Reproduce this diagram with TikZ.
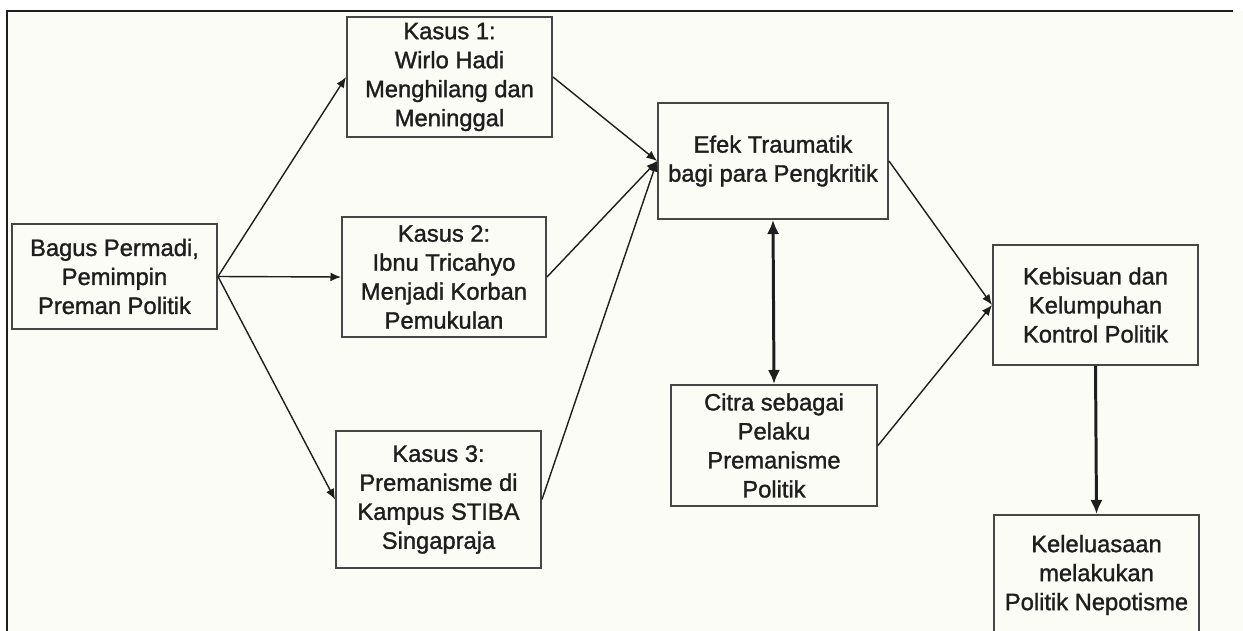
\documentclass[tikz,border=0pt]{standalone}
\usepackage{fontspec}
\setmainfont{Liberation Sans}[BoldFont=Liberation Sans, BoldFeatures={FakeBold=1.3}]
\usepackage{xcolor}
\usetikzlibrary{arrows.meta}
\definecolor{paper}{RGB}{252, 252, 247}
\definecolor{boxline}{RGB}{70, 70, 70}
\definecolor{ink}{RGB}{30, 30, 30}

\begin{document}
\begin{tikzpicture}[font=\fontsize{13.5}{16.5}\selectfont\bfseries, text=ink,
   bx/.style={draw=boxline, line width=1.1pt, fill=paper, align=center, inner sep=2pt, minimum width=4.1cm, minimum height=2.4cm},
   ar/.style={-{Latex[length=6pt, width=5pt]}, ink, line width=0.8pt},
   tk/.style={ink, line width=1.7pt}]
  \clip (0,0) rectangle (24.86,-12.62);
  \fill[white] (0,0) rectangle (24.86,-12.62);
  \fill[paper] (0.14,-0.22) rectangle (24.86,-12.62);
  \draw[ink, line width=1.1pt] (0.14,-12.7) -- (0.14,-0.22) -- (24.66,-0.22);
  % boxes
  \node[bx, minimum height=2.1cm] (bp) at (2.29,-5.53) {Bagus Permadi,\\ Pemimpin\\ Preman Politik};
  \node[bx] (k1) at (8.99,-1.54) {Kasus 1:\\ Wirlo Hadi\\ Menghilang dan\\ Meninggal};
  \node[bx, minimum width=4.08cm] (k2) at (8.88,-5.54) {Kasus 2:\\ Ibnu Tricahyo\\ Menjadi Korban\\ Pemukulan};
  \node[bx, minimum height=2.74cm] (k3) at (8.77,-9.99) {Kasus 3:\\ Premanisme di\\ Kampus STIBA\\ Singapraja};
  \node[bx, minimum width=4.6cm, minimum height=2.32cm] (ef) at (15.46,-3.22) {Efek Traumatik\\ bagi para Pengkritik};
  \node[bx, minimum width=4.12cm, minimum height=2.42cm] (ci) at (15.48,-8.91) {Citra sebagai\\ Pelaku\\ Premanisme\\ Politik};
  \node[bx] (kb) at (21.91,-6.10) {Kebisuan dan\\ Kelumpuhan\\ Kontrol Politik};
  \node[bx] (kl) at (21.93,-11.50) {Keleluasaan\\ melakukan\\ Politik Nepotisme};
  % connectors
  \draw[ar] (bp.east) -- (k1.west);
  \draw[ar] (bp.east) -- (k2.west);
  \draw[ar] (bp.east) -- (k3.west);
  \draw[ar] (k1.east) -- (ef.west);
  \draw[ar] (k2.east) -- (ef.west);
  \draw[ar] (k3.east) -- (ef.west);
  \draw[ar] (ef.east) -- (kb.west);
  \draw[ar] (ci.east) -- (kb.west);
  \draw[tk, {Latex[length=8pt, width=7pt]}-{Latex[length=8pt, width=7pt]}] (ef.south) -- (ci.north);
  \draw[tk, -{Latex[length=8pt, width=7pt]}] (kb.south) -- (kl.north);
\end{tikzpicture}
\end{document}
